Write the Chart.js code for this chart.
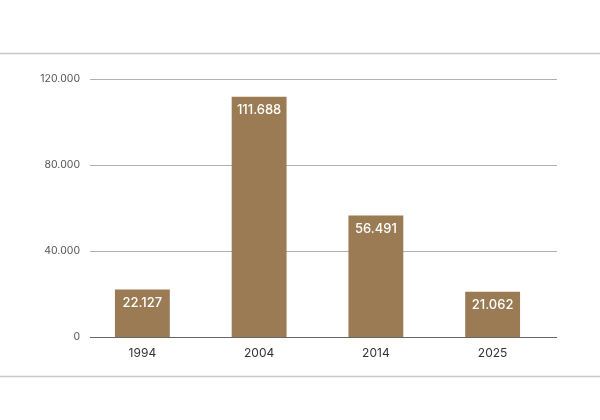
<!DOCTYPE html>
<html>
<head>
<meta charset="utf-8">
<script src="https://cdn.jsdelivr.net/npm/chart.js@4/dist/chart.umd.min.js"></script>
<style>
html,body{margin:0;padding:0;background:#fff;}
#wrap{position:relative;width:600px;height:420px;}
</style>
</head>
<body>
<div id="wrap"><canvas id="c" width="600" height="420"></canvas></div>
<script>
const categories = ['1994', '2004', '2014', '2025'];
const values = [22127, 111688, 56491, 21062];
const yTicks = [0, 40000, 80000, 120000];

function fmt(v){
  return String(Math.round(v)).replace(/\B(?=(\d{3})+(?!\d))/g, '.');
}

const GRID_LEFT = 90, GRID_RIGHT = 557;

const framePlugin = {
  id: 'frame',
  beforeDraw(chart){
    const ctx = chart.ctx;
    ctx.save();
    ctx.strokeStyle = '#c8c8c8';
    ctx.lineWidth = 1.5;
    ctx.beginPath();
    ctx.moveTo(0, 53.5); ctx.lineTo(600, 53.5);
    ctx.moveTo(0, 376.5); ctx.lineTo(600, 376.5);
    ctx.stroke();
    ctx.restore();
  },
  beforeDatasetsDraw(chart){
    const ctx = chart.ctx;
    const y = chart.scales.y;
    ctx.save();
    ctx.lineWidth = 1;
    yTicks.forEach(v => {
      const py = Math.round(y.getPixelForValue(v)) + 0.5;
      ctx.strokeStyle = v === 0 ? '#666666' : '#b0b0b0';
      ctx.beginPath();
      ctx.moveTo(GRID_LEFT, py);
      ctx.lineTo(GRID_RIGHT, py);
      ctx.stroke();
    });
    ctx.restore();
  }
};

const labelPlugin = {
  id: 'barLabels',
  afterDatasetsDraw(chart){
    const ctx = chart.ctx;
    const meta = chart.getDatasetMeta(0);
    ctx.save();
    ctx.fillStyle = '#ffffff';
    ctx.font = '500 13px Inter, "Noto Sans", sans-serif';
    ctx.textAlign = 'center';
    ctx.textBaseline = 'middle';
    meta.data.forEach((bar, i) => {
      ctx.fillText(fmt(values[i]), bar.x, bar.y + 13.5);
    });
    ctx.restore();
  }
};

new Chart(document.getElementById('c'), {
  type: 'bar',
  data: {
    labels: categories,
    datasets: [{
      data: values,
      backgroundColor: '#9b7b53',
      borderWidth: 0,
      barPercentage: 0.47,
      categoryPercentage: 1.0
    }]
  },
  options: {
    responsive: false,
    animation: false,
    devicePixelRatio: 1,
    layout: { padding: { top: 79, right: 49, bottom: 0, left: 0 } },
    plugins: { legend: { display: false }, tooltip: { enabled: false } },
    scales: {
      x: {
        grid: { display: false, drawTicks: false },
        border: { display: false },
        ticks: { color: '#333', font: { family: 'Inter', size: 12 }, padding: 9 },
        afterFit(scale){ scale.height = 83; }
      },
      y: {
        min: 0, max: 120000,
        afterBuildTicks(scale){ scale.ticks = yTicks.map(v => ({ value: v })); },
        grid: { display: false, drawTicks: false },
        border: { display: false },
        ticks: {
          color: '#555', font: { family: 'Inter', size: 10.5 }, padding: 4,
          callback: v => fmt(v)
        },
        afterFit(scale){ scale.width = 84; }
      }
    }
  },
  plugins: [framePlugin, labelPlugin]
});
</script>
</body>
</html>
